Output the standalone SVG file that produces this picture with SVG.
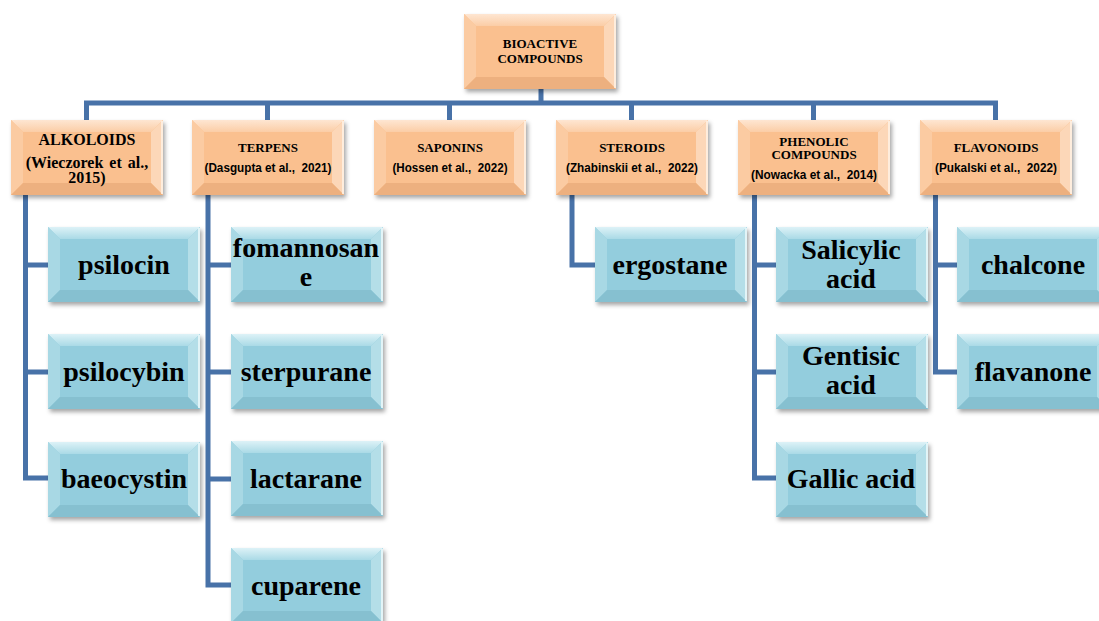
<svg xmlns="http://www.w3.org/2000/svg" xmlns:xlink="http://www.w3.org/1999/xlink" width="1099" height="621" viewBox="0 0 1099 621">
<style>
.conn{fill:none;stroke:#4872A8;stroke-width:5;stroke-linejoin:miter;stroke-linecap:butt}
.t2{font-family:"Liberation Serif",serif;font-weight:bold;font-size:28px;text-anchor:middle;fill:#000}
.t1{font-family:"Liberation Serif",serif;font-weight:bold;font-size:13px;text-anchor:middle;fill:#000}
.t1b{font-family:"Liberation Serif",serif;font-weight:bold;font-size:16px;text-anchor:middle;fill:#000}
.cit{font-family:"Liberation Sans",Arial,sans-serif;font-weight:bold;font-size:12px;text-anchor:middle;fill:#000;white-space:pre}
</style>
<defs>
<filter id="sh" x="-10%" y="-10%" width="130%" height="140%">
<feDropShadow dx="2" dy="3" stdDeviation="2" flood-color="#000" flood-opacity="0.35"/>
</filter>
<linearGradient id="bt" x1="0" y1="0" x2="0" y2="1">
<stop offset="0" stop-color="#DDF2F7"/><stop offset="1" stop-color="#AADAE6"/>
</linearGradient>
<linearGradient id="ot" x1="0" y1="0" x2="0" y2="1">
<stop offset="0" stop-color="#FEE6D2"/><stop offset="1" stop-color="#FBCDA6"/>
</linearGradient>
<g id="bbox">
<rect width="152" height="75" fill="#93CDDD"/>
<polygon points="0,0 152,0 140,12 12,12" fill="url(#bt)"/>
<polygon points="0,0 12,12 12,63 0,75" fill="#A8D8E4"/>
<polygon points="152,0 152,75 140,63 140,12" fill="#B4DEE8"/>
<polygon points="0,75 152,75 140,63 12,63" fill="#86C0D0"/>
<line x1="151" y1="1" x2="151" y2="74" stroke="#F2FBFD" stroke-width="1.5"/>
</g>
<g id="obox">
<rect width="152" height="75" fill="#FAC08F"/>
<polygon points="0,0 152,0 140,12 12,12" fill="url(#ot)"/>
<polygon points="0,0 12,12 12,63 0,75" fill="#FBCBA2"/>
<polygon points="152,0 152,75 140,63 140,12" fill="#FCD7B8"/>
<polygon points="0,75 152,75 140,63 12,63" fill="#EDB07F"/>
<line x1="151" y1="1" x2="151" y2="74" stroke="#FFF4EA" stroke-width="1.5"/>
</g>
</defs>
<rect width="1099" height="621" fill="#fff"/>

<g id="connectors" class="conn">
<path d="M541,89 V103"/>
<path d="M86.5,120 V103 H995.5 V120"/>
<path d="M267.5,103 V120"/>
<path d="M449.5,103 V120"/>
<path d="M631.5,103 V120"/>
<path d="M813.5,103 V120"/>
<path d="M25.5,195 V478 H48 M25.5,265 H48 M25.5,372 H48"/>
<path d="M208,195 V585 H231 M208,265 H231 M208,372 H231 M208,479 H231"/>
<path d="M572,195 V265 H595"/>
<path d="M754.5,195 V478 H776 M754.5,265 H776 M754.5,372 H776"/>
<path d="M935.5,195 V372 H957 M935.5,265 H957"/>
</g>

<g id="root">
<use xlink:href="#obox" x="464" y="14" filter="url(#sh)"/>
<text class="t1" x="540" y="48" font-size="12.5">BIOACTIVE</text>
<text class="t1" x="540" y="62.5" font-size="12.5">COMPOUNDS</text>
</g>

<g id="alkoloids">
<use xlink:href="#obox" x="11" y="120" filter="url(#sh)"/>
<text class="t1b" x="87" y="144.5">ALKOLOIDS</text>
<text class="t1b" x="87" y="168" font-size="15.5" word-spacing="2">(Wieczorek et al.,</text>
<text class="t1b" x="87" y="183" font-size="15.5">2015)</text>
</g>
<g id="terpens">
<use xlink:href="#obox" x="192" y="120" filter="url(#sh)"/>
<text class="t1" x="268" y="152">TERPENS</text>
<text class="cit" x="268" y="172" textLength="127" lengthAdjust="spacingAndGlyphs">(Dasgupta et al.,  2021)</text>
</g>
<g id="saponins">
<use xlink:href="#obox" x="374" y="120" filter="url(#sh)"/>
<text class="t1" x="450" y="152">SAPONINS</text>
<text class="cit" x="450" y="172" textLength="115" lengthAdjust="spacingAndGlyphs">(Hossen et al.,  2022)</text>
</g>
<g id="steroids">
<use xlink:href="#obox" x="556" y="120" filter="url(#sh)"/>
<text class="t1" x="632" y="152">STEROIDS</text>
<text class="cit" x="632" y="172" textLength="132" lengthAdjust="spacingAndGlyphs">(Zhabinskii et al.,  2022)</text>
</g>
<g id="phenolic">
<use xlink:href="#obox" x="738" y="120" filter="url(#sh)"/>
<text class="t1" x="814" y="146">PHENOLIC</text>
<text class="t1" x="814" y="159">COMPOUNDS</text>
<text class="cit" x="814" y="178.5" textLength="126" lengthAdjust="spacingAndGlyphs">(Nowacka et al.,  2014)</text>
</g>
<g id="flavonoids">
<use xlink:href="#obox" x="920" y="120" filter="url(#sh)"/>
<text class="t1" x="996" y="152">FLAVONOIDS</text>
<text class="cit" x="996" y="172" textLength="122" lengthAdjust="spacingAndGlyphs">(Pukalski et al.,  2022)</text>
</g>

<g id="psilocin">
<use xlink:href="#bbox" x="48" y="227" filter="url(#sh)"/>
<text class="t2" x="124" y="274">psilocin</text>
</g>
<g id="psilocybin">
<use xlink:href="#bbox" x="48" y="334" filter="url(#sh)"/>
<text class="t2" x="124" y="381">psilocybin</text>
</g>
<g id="baeocystin">
<use xlink:href="#bbox" x="48" y="442" filter="url(#sh)"/>
<text class="t2" x="124" y="488">baeocystin</text>
</g>

<g id="fomannosane">
<use xlink:href="#bbox" x="231" y="227" filter="url(#sh)"/>
<text class="t2" x="306" y="257">fomannosan</text>
<text class="t2" x="306" y="286">e</text>
</g>
<g id="sterpurane">
<use xlink:href="#bbox" x="231" y="334" filter="url(#sh)"/>
<text class="t2" x="306" y="381">sterpurane</text>
</g>
<g id="lactarane">
<use xlink:href="#bbox" x="231" y="441" filter="url(#sh)"/>
<text class="t2" x="306" y="488">lactarane</text>
</g>
<g id="cuparene">
<use xlink:href="#bbox" x="231" y="548" filter="url(#sh)"/>
<text class="t2" x="306" y="595">cuparene</text>
</g>

<g id="ergostane">
<use xlink:href="#bbox" x="595" y="227" filter="url(#sh)"/>
<text class="t2" x="670" y="274">ergostane</text>
</g>

<g id="salicylic">
<use xlink:href="#bbox" x="776" y="227" filter="url(#sh)"/>
<text class="t2" x="851" y="259">Salicylic</text>
<text class="t2" x="851" y="288">acid</text>
</g>
<g id="gentisic">
<use xlink:href="#bbox" x="776" y="334" filter="url(#sh)"/>
<text class="t2" x="851" y="365">Gentisic</text>
<text class="t2" x="851" y="394">acid</text>
</g>
<g id="gallic">
<use xlink:href="#bbox" x="776" y="442" filter="url(#sh)"/>
<text class="t2" x="851" y="488">Gallic acid</text>
</g>

<g id="chalcone">
<use xlink:href="#bbox" x="957" y="227" filter="url(#sh)"/>
<text class="t2" x="1033" y="274">chalcone</text>
</g>
<g id="flavanone">
<use xlink:href="#bbox" x="957" y="334" filter="url(#sh)"/>
<text class="t2" x="1033" y="381">flavanone</text>
</g>
</svg>
